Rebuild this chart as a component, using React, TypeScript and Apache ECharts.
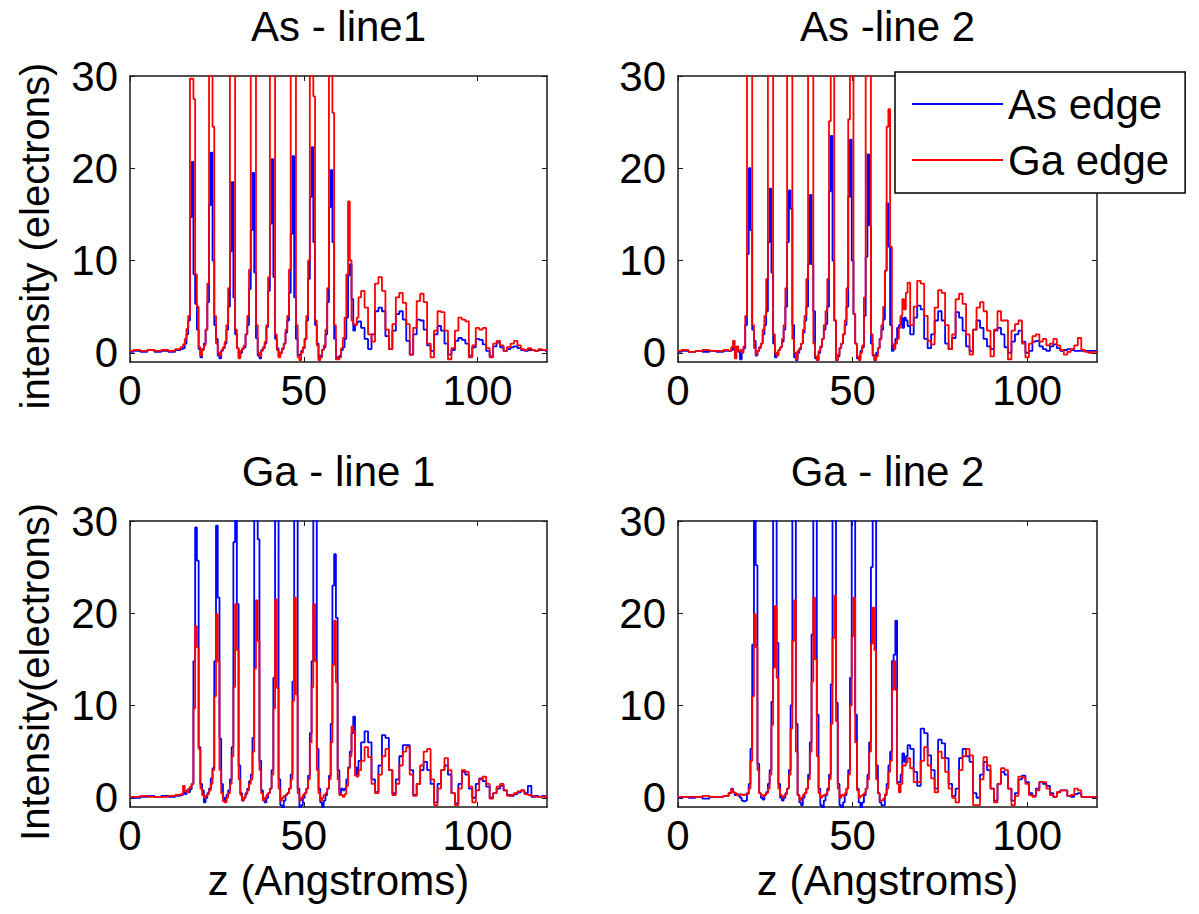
import React, { useEffect, useRef } from 'react';
import * as echarts from 'echarts';

// z positions (Angstroms) shared by all four panels
const Z = [
  0, 2, 4, 6, 8, 10, 12, 14,
  15, 15.5, 16, 16.5, 17, 17.5, 18, 18.5, 19, 19.5,
  20, 20.5, 21, 21.5, 22, 22.5, 23, 23.5, 24, 24.5,
  25, 25.5, 26, 26.5, 27, 27.5, 28, 28.5, 29, 29.5,
  30, 30.5, 31, 31.5, 32, 32.5, 33, 33.5, 34, 34.5,
  35, 35.5, 36, 36.5, 37, 37.5, 38, 38.5, 39, 39.5,
  40, 40.5, 41, 41.5, 42, 42.5, 43, 43.5, 44, 44.5,
  45, 45.5, 46, 46.5, 47, 47.5, 48, 48.5, 49, 49.5,
  50, 50.5, 51, 51.5, 52, 52.5, 53, 53.5, 54, 54.5,
  55, 55.5, 56, 56.5, 57, 57.5, 58, 58.5, 59, 59.5,
  60, 60.5, 61, 61.5, 62, 62.5, 63, 63.5, 64, 64.5,
  65, 65.5, 66,
  67, 68, 69, 70, 71, 72, 73, 74, 75, 76,
  77, 78, 79, 80, 81, 82, 83, 84, 85, 86,
  87, 88, 89, 90, 91, 92, 93, 94, 95, 96,
  97, 98, 99, 100, 101, 102, 103, 104, 105, 106,
  107, 108, 109, 110, 111, 112, 113, 114, 115, 116,
  117, 118, 119, 120,
];

// As - line1
const AS1_GA = [
  0.2, 0.3, 0.2, 0.3, 0.2, 0.3, 0.2, 0.4,
  0.6, 0.9, 1.5, 2.6, 4.0, 29.7, 29.7, 27.5, 8.5, 5.0,
  0.6, -0.3, 0.3, 0.8, 2.5, 7.5, 40, 40, 24.5, 4.0,
  1.0, 0.0, -0.3, 0.3, 0.6, 1.2, 3.0, 7.0, 40, 40,
  40, 2.5, 0.5, -0.6, 0.2, 0.5, 0.8, 2.0, 4.0, 9.0,
  40, 40, 40, 3.0, 0.0, -0.4, 0.2, 0.6, 1.2, 3.0,
  8.2, 40, 40, 40, 2.0, 0.3, -0.5, 0.0, 0.5, 1.0,
  2.5, 4.0, 9.0, 40, 40, 40, 3.0, -0.5, -0.8, 0.0,
  0.6, 1.5, 4.0, 10, 40, 40, 27.8, 3.5, 0.8, -0.8,
  -0.5, 0.3, 0.8, 2.5, 7.0, 40, 40, 26, 3.0, -0.7,
  -0.7, -0.5, 0.5, 1.6, 3.8, 8.5, 16.4, 10, 3.5, 3.1,
  3.0, 3.8, 6.0,
  6.7, 4.9, 2.0, 1.2, 7.5, 8.2, 6.7, 2.5, 0.4, 3.1,
  6.0, 6.5, 5.4, 3.1, -0.2, 2.7, 5.6, 6.4, 5.5, 1.0,
  -0.5, 2.4, 4.5, 4.4, 2.4, -0.7, 0.5, 2.4, 3.8, 3.6,
  3.4, -0.5, 0.8, 2.7, 2.5, 2.7, 0.5, -0.5, 1.0, 1.3,
  0.8, 0.2, 0.6, 1.0, 1.3, 0.8, 0.4, 0.3, 0.5, 0.3,
  0.2, 0.4, 0.3, 0.3,
];
const AS1_AS = [
  0.1, 0.2, 0.1, 0.3, 0.1, 0.2, 0.1, 0.3,
  0.4, 0.5, 1.0, 2.0, 3.5, 14.7, 20.7, 8.5, 5.3, 2.5,
  0.4, -0.5, 0.4, 1.0, 2.5, 5.5, 16, 21.7, 10, 3.0,
  1.5, -0.3, -0.6, 0.2, 0.5, 1.0, 2.5, 5.0, 11, 18.5,
  6, 2.0, 0.5, -0.5, 0.0, 0.4, 0.6, 2.0, 3.0, 6.9,
  13.3, 19.5, 8.7, 1.6, -0.3, -0.6, 0.3, 0.5, 1.0, 2.8,
  6.7, 14, 21, 8.2, 1.5, 0.5, -0.4, 0.0, 0.4, 1.0,
  2.2, 3.5, 6.5, 12.9, 21.3, 6.0, 1.5, -0.3, -0.2, 0.2,
  0.5, 1.5, 3.5, 8, 16.9, 22.3, 12, 3.0, 1.0, -0.6,
  -0.3, 0.3, 0.6, 2.0, 5.5, 15.8, 19.8, 12, 1.5, -0.5,
  -0.5, -0.3, 0.3, 0.6, 1.5, 3.8, 8.4, 9.6, 5.8, 2.4,
  3.0, 3.3, 3.4,
  2.7, 1.5, 0.4, 2.0, 4.5, 4.9, 4.5, 1.8, 0.4, 2.4,
  4.2, 4.5, 3.6, 1.3, -0.2, 2.0, 3.6, 3.5, 2.5, 0.8,
  0.2, 2.0, 2.9, 2.4, 1.0, -0.2, 0.3, 1.3, 1.6, 1.4,
  1.0, -0.3, 0.6, 1.5, 1.4, 0.9, 0.2, -0.4, 0.7, 1.1,
  0.6, 0.2, 0.4, 0.6, 0.7, 0.5, 0.3, 0.2, 0.3, 0.3,
  0.2, 0.3, 0.3, 0.2,
];

// As - line 2
const AS2_GA = [
  0.2, 0.3, 0.1, 0.2, 0.3, 0.2, 0.2, 0.3,
  0.2, 0.6, 1.3, -0.6, 0.7, 0.2, 0.3, 0.0, 0.7, 4.0,
  40, 40, 40, 3.0, 0.5, -0.2, 0.2, 0.5, 1.0, 2.5,
  4.0, 8.0, 40, 40, 40, 2.0, 0.0, -0.3, 0.3, 0.6,
  1.5, 3.0, 7.0, 40, 40, 40, 1.5, 0.0, -0.7, 0.2,
  0.5, 1.0, 2.5, 4.0, 8.0, 40, 40, 40, 1.0, -0.4,
  -0.8, 0.2, 0.7, 1.5, 3.0, 4.5, 8.0, 25.1, 40, 40,
  3.5, -0.8, -0.2, 0.5, 1.0, 2.0, 3.5, 7.0, 25.3, 40,
  40, 4.2, 1.0, -0.4, -0.8, 0.0, 0.8, 6.0, 40, 40,
  40, 2.0, -0.2, -0.8, -0.4, 0.5, 1.5, 3.0, 5.0, 8.9,
  24.5, 26.4, 11.5, 0.9, 0.4, 1.0, 1.5, 2.7, 4.0, 5.8,
  4.7, 6.5, 7.6,
  3.0, 5.0, 7.8, 7.5, 4.0, 1.3, 0.9, 4.9, 6.8, 6.5,
  3.0, 0.4, 2.0, 5.8, 6.4, 5.3, 2.0, -0.2, 2.5, 4.9,
  5.5, 4.5, 2.4, -0.4, 2.5, 4.5, 3.5, 3.5, -0.7, 2.4,
  3.1, 3.5, 1.0, -0.5, 1.0, 1.8, 2.0, 1.2, 1.5, 0.8,
  1.0, 1.5, 0.8, 0.3, -0.2, 0.1, 0.4, 0.8, 1.6, 0.3,
  0.1, 0.0, 0.1, 0.1,
];
const AS2_AS = [
  0.1, 0.2, 0.1, 0.2, 0.1, 0.2, 0.1, 0.2,
  0.2, 0.3, 0.5, 0.2, 0.3, 0.1, -0.7, 0.2, 0.5, 3.0,
  10.7, 20, 13.3, 2.5, 1.3, -0.3, 0.2, 0.6, 1.0, 2.0,
  3.0, 4.5, 12, 17.8, 8.7, 1.0, -0.5, -0.2, 0.3, 0.6,
  1.2, 2.5, 5.0, 12, 17.6, 15.6, 3.0, -0.5, -0.8, 0.0,
  0.4, 1.0, 2.2, 3.5, 5.0, 9.6, 17.1, 9.6, 4.5, -0.6,
  -0.8, 0.0, 0.6, 1.5, 2.5, 3.1, 5.0, 17.5, 23.5, 10,
  3.5, -0.8, -0.4, 0.5, 1.0, 2.0, 3.0, 5.0, 16.9, 23.1,
  10, 4.2, 1.0, -0.6, -0.6, 0.2, 0.6, 4.0, 10.4, 21.5,
  13.8, 1.0, -0.3, -0.8, 0.0, 0.5, 1.5, 2.5, 3.6, 8.9,
  16.2, 11.5, 3.0, 0.2, 0.9, 1.5, 2.7, 3.0, 3.8, 2.7,
  3.8, 3.5, 2.9,
  2.0, 3.8, 5.1, 4.7, 1.5, 0.5, 2.0, 3.5, 4.5, 3.5,
  1.0, 0.4, 1.6, 4.4, 3.8, 2.4, 0.7, 0.2, 2.5, 3.5,
  2.7, 1.5, 0.7, 0.4, 2.4, 2.7, 2.0, 0.6, 0.0, 1.2,
  2.0, 2.4, 1.2, 0.0, 0.2, 1.2, 1.3, 0.7, 0.4, 0.2,
  0.7, 0.9, 0.5, 0.2, 0.3, 0.4, 0.3, 0.2, 0.2, 0.2,
  0.2, 0.2, 0.2, 0.2,
];

// Ga - line 1
const GA1_AS = [
  0.1, 0.0, 0.1, 0.2, 0.1, 0.2, 0.1, 0.2,
  0.3, 0.6, 0.4, 0.8, 0.6, 0.9, 1.5, 14.8, 29.3, 25.7,
  5.5, 1.5, 0.8, -0.5, 0.0, 0.5, 1.0, 2.1, 3.2, 14.8,
  29.5, 21.7, 6.4, 1.5, 0.0, -0.4, 0.3, 0.8, 2.0, 5.5,
  27.7, 35, 21, 3.5, 0.5, -0.3, 0.0, 0.5, 1.0, 1.8,
  2.5, 6.5, 35, 35, 28, 4.0, 0.8, -0.2, -0.5, 0.0,
  0.5, 1.0, 3.0, 13, 35, 35, 2.0, -0.8, -1.2, -0.3,
  0.3, 0.5, 1.0, 2.5, 12.6, 35, 35, 1.0, -1.2, -0.8,
  0.0, 0.5, 1.0, 2.4, 7.0, 14.8, 35, 35, 5.3, 1.0,
  -0.5, -1.0, -0.3, 0.3, 1.0, 2.4, 8.0, 23, 26.4, 19.5,
  3.0, 0.5, 1.0, 0.8, 1.0, 2.0, 3.3, 5.0, 7.0, 8.8,
  3.3, 2.5, 4.0,
  6.0, 7.2, 6.0, 2.0, 0.6, 3.5, 6.8, 6.5, 3.0, 0.5,
  2.0, 4.5, 5.7, 5.7, 3.0, 0.3, 1.5, 3.0, 3.9, 3.0,
  1.5, -0.5, 1.5, 3.0, 3.5, 2.5, 0.5, -0.6, 1.5, 2.8,
  2.5, 1.0, 0.0, 1.5, 2.1, 1.8, 1.2, 0.0, 0.5, 1.0,
  1.3, 0.8, 0.3, 0.2, 0.4, 0.6, 0.8, 0.5, 1.3, 0.1,
  0.2, 0.1, 0.2, 0.1,
];
const GA1_GA = [
  0.1, 0.1, 0.2, 0.1, 0.1, 0.1, 0.2, 0.3,
  0.4, 1.3, 0.7, 0.6, 1.0, 1.2, 1.5, 9.7, 18.6, 16.3,
  5.3, 1.0, 0.3, 0.0, 0.2, 0.4, 0.8, 1.5, 3.0, 11.0,
  19.9, 14.8, 3.0, 0.5, -0.4, -0.5, 0.0, 0.5, 1.5, 4.5,
  12, 21, 16, 2.0, 0.3, -0.3, 0.0, 0.4, 0.8, 1.5,
  2.0, 5.0, 14, 21.4, 17, 3.0, 0.5, -0.3, 0.0, 0.3,
  0.5, 1.0, 2.5, 9.7, 21.5, 11.9, 1.0, -0.3, 0.0, 0.2,
  0.3, 0.5, 1.0, 2.0, 10.5, 21.7, 11.2, 0.5, -0.3, 0.0,
  0.3, 0.5, 1.0, 2.0, 6.0, 12, 21, 14.8, 3.0, 0.5,
  -0.3, 0.0, 0.3, 0.5, 1.0, 2.0, 6.0, 14.4, 19.2, 12.5,
  2.0, 0.3, 0.3, 0.1, 0.4, 1.3, 3.2, 4.5, 7.7, 7.2,
  2.4, 2.3, 3.0,
  4.0, 5.5, 4.4, 1.5, 0.5, 2.5, 4.5, 5.3, 3.0, 0.3,
  1.5, 3.5, 5.0, 5.5, 2.5, 0.2, 1.5, 3.5, 5.0, 5.3,
  2.0, -0.8, 1.0, 3.0, 4.3, 3.0, 0.5, -0.8, 1.0, 3.0,
  2.8, 1.2, -0.5, 0.8, 2.0, 2.3, 1.5, -0.1, 0.5, 1.2,
  1.5, 0.8, 0.2, 0.3, 0.5, 0.7, 0.8, 0.4, 0.3, 0.2,
  0.1, 0.1, 0.1, 0.1,
];

// Ga - line 2
const GA2_AS = [
  0.0, 0.1, 0.0, 0.1, -0.1, 0.1, 0.1, 0.2,
  0.5, 1.0, 0.6, 0.3, 0.4, 0.2, 0.0, -0.3, -0.4, -0.3,
  0.5, 1.5, 5.3, 16.6, 35, 25.2, 3.7, 0.5, 0.0, -0.2,
  0.3, 0.6, 1.5, 3.0, 10.4, 35, 35, 16.8, 1.5, 0.0,
  -0.3, 0.0, 0.5, 1.0, 3.0, 10.0, 35, 35, 8.0, 0.3,
  -0.5, -0.8, 0.0, 0.5, 1.0, 2.5, 6.0, 17.7, 35, 35,
  9.0, 1.0, -0.8, -1.2, -0.3, 0.3, 1.0, 2.5, 12.3, 35,
  35, 10.3, 1.5, -0.8, -1.2, -0.5, 0.3, 1.0, 3.0, 13,
  35, 35, 9.0, 1.0, -0.5, -1.2, -0.5, 0.3, 1.0, 2.5,
  6.0, 25, 35, 35, 3.5, 0.5, -0.5, -0.8, -0.8, 0.3,
  1.5, 3.5, 5.0, 14.8, 15.5, 19.2, 1.7, 1.7, 2.5, 4.8,
  3.9, 4.5, 5.7,
  5.3, 2.8, 1.3, 7.5, 7.0, 4.6, 3.0, 1.0, 6.3, 5.9,
  4.3, 1.5, 0.2, 1.0, 4.3, 5.3, 4.5, 3.9, 0.5, 0.0,
  2.5, 3.9, 3.0, 1.0, -0.3, 1.5, 2.8, 2.5, 1.0, -0.3,
  0.5, 2.0, 2.4, 1.7, 0.5, 0.2, 1.0, 1.7, 1.5, 1.3,
  0.5, 0.1, 0.6, 0.8, 0.8, 0.2, 0.1, 0.4, 0.5, 0.1,
  0.1, 0.1, 0.1, 0.1,
];
const GA2_GA = [
  0.1, 0.1, 0.1, 0.1, 0.2, 0.1, 0.1, 0.2,
  0.5, 0.9, 0.6, 0.5, 0.3, 0.3, 0.4, 0.3, 0.3, 0.4,
  0.4, 1.0, 4.0, 11, 19.9, 16.3, 3.0, 0.5, 0.3, 0.2,
  0.3, 0.5, 1.0, 2.5, 7.9, 14.1, 20.8, 13, 1.0, 0.3,
  0.0, 0.2, 0.4, 1.0, 2.5, 7.5, 17, 21.4, 5.0, 0.3,
  -0.3, 0.0, 0.3, 0.5, 1.0, 2.0, 5.0, 12.6, 21.7, 15,
  4.5, 0.5, 0.0, 0.2, 0.3, 0.4, 0.8, 2.0, 8.0, 17.3,
  21.9, 8.3, 1.0, 0.0, 0.3, 0.2, 0.5, 1.0, 2.5, 10,
  17.5, 21.7, 6.0, 0.8, 0.0, 0.2, 0.3, 0.5, 1.0, 2.0,
  5.0, 16.7, 20.6, 16.0, 2.0, 0.5, -0.3, -0.3, -0.1, 0.4,
  1.0, 2.8, 4.0, 11.7, 14.8, 11.7, 1.5, 0.6, 1.5, 3.5,
  3.5, 3.8, 4.3,
  3.2, 1.7, 1.7, 4.0, 5.5, 3.5, 2.1, 0.6, 5.0, 4.3,
  2.8, 1.0, 0.0, -0.5, 3.0, 4.5, 5.3, 4.6, -0.8, -0.8,
  2.0, 4.4, 3.5, 1.0, -0.5, 1.5, 3.2, 3.0, 1.0, -0.8,
  0.2, 2.3, 2.2, 1.5, 0.3, 0.1, 0.8, 1.7, 1.7, 1.0,
  0.3, 0.1, 0.6, 0.8, 0.8, 0.2, 0.3, 1.0, 0.8, 0.1,
  0.1, 0.1, 0.1, 0.1,
];

const X_TICKS = [0, 50, 100];
const Y_TICKS = [0, 10, 20, 30];
const TITLES = ['As - line1', 'As -line 2', 'Ga - line 1', 'Ga - line 2'];
const Y_LABELS = ['intensity (electrons)', 'Intensity(electrons)'];
const X_LABEL = 'z (Angstroms)';
const SERIES_NAMES = ['As edge', 'Ga edge'];

const FONT = '"Liberation Sans", Arial, Helvetica, sans-serif';
const FS = 42;
const FS_Y = 40;
const BLUE = '#0000ff';
const RED = '#ff0000';
const AX = '#1a1a1a';

const PANELS = [
  { left: 130, top: 76, width: 417, as: AS1_AS, ga: AS1_GA },
  { left: 678, top: 76, width: 419, as: AS2_AS, ga: AS2_GA },
  { left: 130, top: 521, width: 417, as: GA1_AS, ga: GA1_GA },
  { left: 678, top: 521, width: 419, as: GA2_AS, ga: GA2_GA },
];
const PH = 286;

function pairs(vals: number[]) {
  return Z.map((z, i) => [z, vals[i]]);
}

function buildOption() {
  const grid = PANELS.map((p) => ({ left: p.left, top: p.top, width: p.width, height: PH }));
  const lineStyle = { color: AX, width: 1.5 };
  const tickStyle = { color: AX, width: 1 };
  const xAxis: any[] = [];
  const yAxis: any[] = [];
  PANELS.forEach((p, i) => {
    xAxis.push({
      type: 'value', gridIndex: i, min: 0, max: 120, position: 'bottom',
      axisLine: { show: true, onZero: false, lineStyle },
      axisTick: { show: true, inside: true, length: 5, customValues: X_TICKS, lineStyle: tickStyle },
      axisLabel: { show: true, customValues: X_TICKS, fontSize: FS, fontFamily: FONT, color: '#000', margin: 7 },
      splitLine: { show: false },
    });
    yAxis.push({
      type: 'value', gridIndex: i, min: -1, max: 30, position: 'left',
      axisLine: { show: true, onZero: false, lineStyle },
      axisTick: { show: true, inside: true, length: 5, customValues: Y_TICKS, lineStyle: tickStyle },
      axisLabel: { show: true, customValues: Y_TICKS, fontSize: FS, fontFamily: FONT, color: '#000', margin: 12 },
      splitLine: { show: false },
    });
  });
  PANELS.forEach((p, i) => {
    xAxis.push({
      type: 'value', gridIndex: i, min: 0, max: 120, position: 'top',
      axisLine: { show: true, onZero: false, lineStyle },
      axisTick: { show: true, inside: true, length: 5, customValues: X_TICKS, lineStyle: tickStyle },
      axisLabel: { show: false },
      splitLine: { show: false },
    });
    yAxis.push({
      type: 'value', gridIndex: i, min: -1, max: 30, position: 'right',
      axisLine: { show: true, onZero: false, lineStyle },
      axisTick: { show: true, inside: true, length: 5, customValues: Y_TICKS, lineStyle: tickStyle },
      axisLabel: { show: false },
      splitLine: { show: false },
    });
  });

  const series: any[] = [];
  PANELS.forEach((p, i) => {
    series.push({
      type: 'line', name: SERIES_NAMES[0], xAxisIndex: i, yAxisIndex: i,
      data: pairs(p.as), step: 'middle', symbol: 'none', clip: true, silent: true,
      lineStyle: { color: BLUE, width: 1.8 }, itemStyle: { color: BLUE },
    });
    series.push({
      type: 'line', name: SERIES_NAMES[1], xAxisIndex: i, yAxisIndex: i,
      data: pairs(p.ga), step: 'middle', symbol: 'none', clip: true, silent: true,
      lineStyle: { color: RED, width: 1.8 }, itemStyle: { color: RED },
    });
  });

  const graphic: any[] = [];
  PANELS.forEach((p, i) => {
    graphic.push({
      type: 'text', x: p.left + p.width / 2, y: p.top - 50,
      style: { text: TITLES[i], fontSize: FS, fontFamily: FONT, fill: '#000', textAlign: 'center', textVerticalAlign: 'middle' },
    });
  });
  graphic.push({
    type: 'text', x: 35, y: 236, rotation: Math.PI / 2,
    style: { text: Y_LABELS[0], fontSize: FS_Y, fontFamily: FONT, fill: '#000', textAlign: 'center', textVerticalAlign: 'middle' },
  });
  graphic.push({
    type: 'text', x: 35, y: 672, rotation: Math.PI / 2,
    style: { text: Y_LABELS[1], fontSize: FS_Y, fontFamily: FONT, fill: '#000', textAlign: 'center', textVerticalAlign: 'middle' },
  });
  [PANELS[2], PANELS[3]].forEach((p) => {
    graphic.push({
      type: 'text', x: p.left + p.width / 2, y: 880,
      style: { text: X_LABEL, fontSize: FS, fontFamily: FONT, fill: '#000', textAlign: 'center', textVerticalAlign: 'middle' },
    });
  });

  return {
    animation: false,
    backgroundColor: '#ffffff',
    grid,
    xAxis,
    yAxis,
    series,
    graphic,
    legend: {
      show: true, data: SERIES_NAMES, orient: 'vertical', left: 895, top: 72,
      icon: 'rect', itemWidth: 91, itemHeight: 2, itemGap: 14, padding: [11, 16, 12, 17],
      borderColor: '#000', borderWidth: 1.5, backgroundColor: '#fff',
      selectedMode: false,
      textStyle: { fontSize: FS, fontFamily: FONT, color: '#000' },
    },
  };
}

export default function App() {
  const ref = useRef<HTMLDivElement>(null);
  useEffect(() => {
    if (!ref.current) return;
    const chart = echarts.init(ref.current, null, { renderer: 'svg' });
    chart.setOption(buildOption() as any);
    return () => chart.dispose();
  }, []);
  return (
    <div
      ref={ref}
      style={{ position: 'absolute', left: 0, top: 0, width: 1199, height: 914, background: '#fff' }}
    />
  );
}
